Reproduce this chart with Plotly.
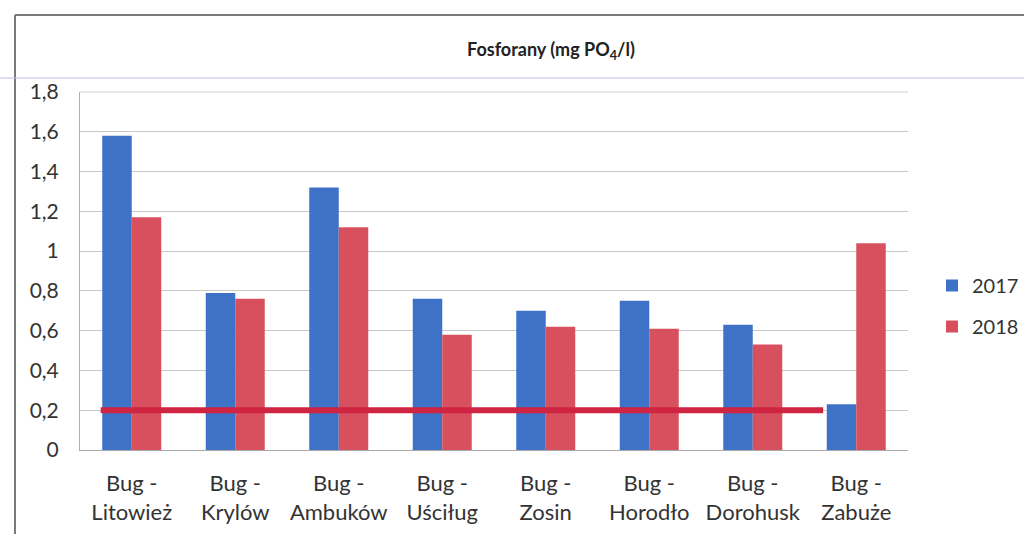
import plotly.graph_objects as go

categories = ["Bug -<br>Litowież", "Bug -<br>Krylów", "Bug -<br>Ambuków", "Bug -<br>Uściług",
              "Bug -<br>Zosin", "Bug -<br>Horodło", "Bug -<br>Dorohusk", "Bug -<br>Zabuże"]
values_2017 = [1.58, 0.79, 1.32, 0.76, 0.70, 0.75, 0.63, 0.23]
values_2018 = [1.17, 0.76, 1.12, 0.58, 0.62, 0.61, 0.53, 1.04]
limit_value = 0.2
limit_start = -0.3
limit_end = 6.68
y_ticks = [0, 0.2, 0.4, 0.6, 0.8, 1, 1.2, 1.4, 1.6, 1.8]
y_tick_text = ["0", "0,2", "0,4", "0,6", "0,8", "1", "1,2", "1,4", "1,6", "1,8"]

font = "Lato, Open Sans, sans-serif"
xs = list(range(len(categories)))

W, H = 1024, 534
L, R, T, B = 80, 116, 92, 84
PW, PH = W - L - R, H - T - B


def px(x):
    return (x - L) / PW


def py(y):
    return (H - B - y) / PH


fig = go.Figure()
fig.add_trace(go.Bar(x=xs, y=values_2017, name="2017", legendgroup="a",
                     marker=dict(color="#3d72c6", line=dict(width=0)), width=0.285, offset=-0.285))
fig.add_trace(go.Bar(x=xs, y=values_2018, name="2018", legendgroup="b",
                     marker=dict(color="#d8505e", line=dict(width=0)), width=0.285, offset=0))
fig.add_trace(go.Scatter(x=[limit_start, limit_end], y=[limit_value, limit_value], mode="lines",
                         line=dict(color="#cf2442", width=6), showlegend=False, hoverinfo="skip"))

fig.update_layout(
    width=W, height=H,
    margin=dict(l=L, r=R, t=T, b=B, autoexpand=False),
    paper_bgcolor="white", plot_bgcolor="white",
    font=dict(family=font, size=21, color="#333333"),
    barmode="overlay",
    showlegend=True,
    legend=dict(x=px(932), y=py(306), yanchor="middle", xanchor="left", font=dict(size=20, color="#333333"),
                itemwidth=30, tracegroupgap=12, bgcolor="rgba(0,0,0,0)"),
    xaxis=dict(range=[-0.5, 7.5], tickmode="array", tickvals=xs, ticktext=categories, automargin=False,
               showgrid=False, zeroline=False, showline=True, linecolor="#a8a8a8", linewidth=1,
               ticks="", ticklabelstandoff=14, tickfont=dict(size=22, color="#333333")),
    yaxis=dict(range=[0, 1.8], tickmode="array", tickvals=y_ticks, ticktext=y_tick_text, automargin=False,
               showgrid=True, gridcolor="#c8c8c8", gridwidth=1, zeroline=False,
               showline=True, linecolor="#b0b0b0", mirror=False, ticks="", ticklen=0,
               ticklabelstandoff=16, tickfont=dict(size=21, color="#333333")),
)

fig.add_annotation(text="<b>Fosforany (mg PO<sub>4</sub>/l)</b>", xref="paper", yref="paper",
                   x=px(551), y=py(50), xanchor="center", yanchor="middle", showarrow=False,
                   font=dict(size=18, color="#222222"))

# outer chart frame and scan line
fig.add_shape(type="line", xref="paper", yref="paper", x0=px(15), x1=px(1024), y0=py(15), y1=py(15),
              line=dict(color="#7a7a7a", width=2))
fig.add_shape(type="line", xref="paper", yref="paper", x0=px(15), x1=px(15), y0=py(15), y1=py(534),
              line=dict(color="#7a7a7a", width=2))
fig.add_shape(type="line", xref="paper", yref="paper", x0=px(0), x1=px(1024), y0=py(78), y1=py(78),
              line=dict(color="#c9b6e8", width=1))
fig.add_shape(type="line", xref="paper", yref="paper", x0=0, x1=1, y0=1, y1=1,
              line=dict(color="#d0d0d0", width=1))

fig.write_html("out.html", config={"displayModeBar": False},
               post_script="document.body.style.margin='0';document.body.style.overflow='hidden';")
